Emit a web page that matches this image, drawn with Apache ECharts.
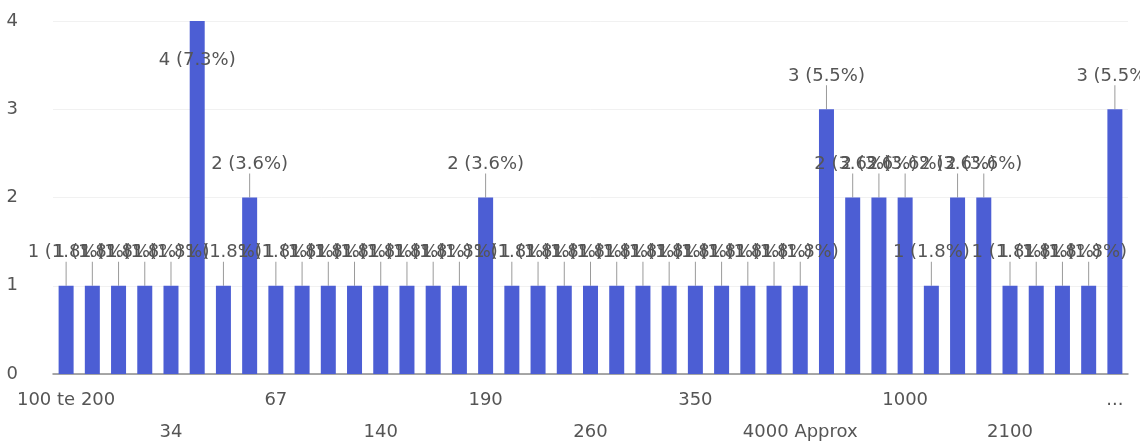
<!DOCTYPE html>
<html>
<head>
<meta charset="utf-8">
<script src="https://cdn.jsdelivr.net/npm/echarts@6/dist/echarts.min.js"></script>
<style>
  html, body { margin: 0; padding: 0; background: #ffffff; }
  #chart { width: 1140px; height: 448px; }
</style>
</head>
<body>
<div id="chart"></div>
<script>
// Categories (only every 4th is legible in the reference; the rest are estimates)
const categories = [
  "100 te 200", "10", "20", "30", "34", "40", "50", "60", "67", "80",
  "100", "120", "140", "150", "160", "180", "190", "200", "220", "250",
  "260", "280", "300", "320", "350", "400", "450", "500", "4000 Approx", "600",
  "700", "800", "1000", "1200", "1500", "2000", "2100", "2500", "3000", "5000",
  "..."
];
// Response counts per category
const counts = [
  1, 1, 1, 1, 1, 4, 1, 2, 1, 1,
  1, 1, 1, 1, 1, 1, 2, 1, 1, 1,
  1, 1, 1, 1, 1, 1, 1, 1, 1, 3,
  2, 2, 2, 1, 2, 2, 1, 1, 1, 1,
  3
];
const yTicks = [0, 1, 2, 3, 4];

const total = counts.reduce((a, b) => a + b, 0);
const maxVal = Math.max(...counts);

const chart = echarts.init(document.getElementById('chart'), null, { renderer: 'canvas' });
const textColor = '#555555';
const font = 'DejaVu Sans';

chart.setOption({
  animation: false,
  backgroundColor: '#ffffff',
  grid: { left: 53, right: 12, top: 21, bottom: 74 },
  xAxis: {
    type: 'category',
    data: categories,
    axisTick: { show: false },
    axisLine: { lineStyle: { color: '#8a8a8a', width: 1.5 } },
    axisLabel: {
      interval: 3,
      margin: 10,
      color: textColor,
      fontFamily: font,
      fontSize: 18,
      lineHeight: 32,
      formatter: function (value, index) {
        return (Math.round(index / 4) % 2 === 1) ? '\n' + value : value;
      }
    }
  },
  yAxis: {
    type: 'value',
    min: yTicks[0],
    max: yTicks[yTicks.length - 1],
    interval: 1,
    axisLine: { show: false },
    axisTick: { show: false },
    splitLine: { lineStyle: { color: '#f1f1f1' } },
    axisLabel: {
      margin: 35,
      color: textColor,
      fontFamily: font,
      fontSize: 18
    }
  },
  series: [{
    type: 'bar',
    data: counts,
    barWidth: 15,
    itemStyle: { color: '#4c5ed4' },
    label: {
      show: true,
      position: 'top',
      color: textColor,
      fontFamily: font,
      fontSize: 18,
      formatter: function (p) {
        return p.value + ' (' + (p.value / total * 100).toFixed(1) + '%)';
      }
    },
    labelLayout: function (params) {
      const r = params.rect;
      const cx = r.x + r.width / 2;
      if (r.y < 60) {
        return { x: cx, y: r.y + 39, align: 'center', verticalAlign: 'middle' };
      }
      return { x: cx, y: r.y - 33, align: 'center', verticalAlign: 'middle' };
    },
    labelLine: {
      show: true,
      length2: 0,
      lineStyle: { color: '#9a9a9a', width: 1 }
    }
  }]
});
</script>
</body>
</html>
